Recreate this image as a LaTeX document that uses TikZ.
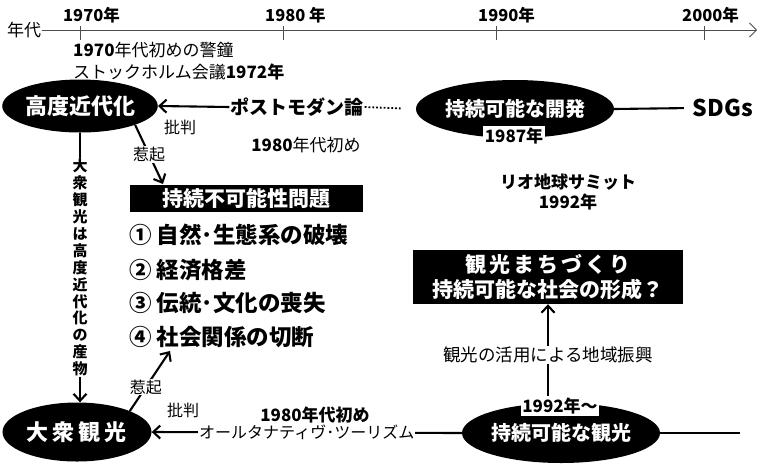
\documentclass[tikz,border=0pt]{standalone}
\usepackage{fontspec}
\setmainfont{Noto Sans CJK JP}
\usetikzlibrary{shapes.geometric,arrows.meta}
\newcommand\myfs[1]{\fontsize{#1}{#1}\selectfont}
\begin{document}
\begin{tikzpicture}[x=1pt,y=-1pt,
  axisline/.style={line width=0.8pt, draw=black!70},
  ell/.style={ellipse, fill=black, text=white, inner sep=0pt},
  blackbox/.style={fill=black, text=white, inner sep=0pt},
  whitebox/.style={fill=white, text=black, inner sep=1.5pt},
  lab/.style={inner sep=1pt},
  item/.style={anchor=west, inner sep=1pt, font=\myfs{22.5}\bfseries},
  conn/.style={line width=2.1pt},
  arr/.style={conn, -{Straight Barb[length=7pt,width=13pt]}},
  yr/.style={anchor=west, font=\myfs{16.5}\bfseries, inner sep=0pt},
]
\useasboundingbox (0,0) rectangle (768,467);

% time axis
\node[lab, font=\myfs{17}] (nendai) at (24,30) {年代};
\coordinate (axend) at (757,30);
\draw[axisline, -{Straight Barb[length=7pt,width=14pt]}] (nendai.east) -- (axend);
\foreach \x in {80,283,496,704} \draw[axisline] (\x,26) -- (\x,40);
\node[yr] (y70) at (63,15) {1970年};
\node[yr] (y80) at (265,15) {1980 年};
\node[yr] (y90) at (478,15) {1990年};
\node[yr] (y00) at (682,15) {2000年};

\node[anchor=west, lab, font=\myfs{17}] (keisho) at (72,50) {\textbf{1970}年代初めの警鐘};
\node[anchor=west, lab, font=\myfs{17}] (stock) at (72,72) {ストックホルム会議\textbf{1972年}};

% top row
\node[ell, minimum width=144, minimum height=53, font=\myfs{22}\bfseries] (kodo) at (80,106) {高度近代化};
\node[lab, font=\myfs{19}\bfseries] (post) at (297,107) {ポストモダン論};
\draw[arr] (post.west) -- (kodo.east);
\node[lab, font=\myfs{16}] (hihan1) at (180,127) {批判};
\node[lab, font=\myfs{17}] (e80a) at (306,145) {\textbf{1980}年代初め};

\node[ell, minimum width=176, minimum height=58, font=\myfs{20}\bfseries] (kaihatsu) at (515,109) {持続可能な開発};
\draw[line width=1.8pt, dotted, shorten >=14pt] (post.east) -- (kaihatsu.west);
\node[whitebox, font=\myfs{17}\bfseries] (y87) at (514,136) {1987年};
\node[lab, font=\myfs{23}\bfseries] (sdgs) at (723,108) {SDGs};
\draw[conn, shorten >=8pt] (kaihatsu.east) -- (sdgs.west);

\node[lab, align=center, font=\fontsize{17}{20}\selectfont\bfseries] (rio) at (568,192) {リオ地球サミット\\1992年};

% problems
\node[blackbox, minimum width=233, minimum height=27, font=\myfs{21}\bfseries] (mondai) at (246.5,198.5) {持続不可能性問題};
\coordinate (mtop) at (163,184);
\draw[arr] (kodo.south east) -- node[lab, fill=white, font=\myfs{16}] (jakki1) {惹起} (mtop);

\node[item] (it1) at (128,235) {① 自然･生態系の破壊};
\node[item] (it2) at (128,270) {② 経済格差};
\node[item] (it3) at (128,303) {③ 伝統･文化の喪失};
\node[item] (it4) at (128,337) {④ 社会関係の切断};

% bottom row
\node[ell, minimum width=149, minimum height=59, font=\myfs{22}\bfseries] (taishu) at (77,432) {大\kern4pt 衆\kern4pt 観\kern4pt 光};
\draw[arr] (kodo.south) -- node[fill=white, inner sep=1pt, align=center, font=\fontsize{15}{16.9}\selectfont\bfseries] (vt) {大\\衆\\観\\光\\は\\高\\度\\近\\代\\化\\の\\産\\物} (kodo.south |- taishu.north);

\coordinate (it4b) at (170,351);
\draw[arr] (taishu.north east) -- node[pos=0.4, lab, fill=white, font=\myfs{16}] (jakki2) {惹起} (it4b);

\node[lab, font=\myfs{16}] (hihan2) at (183,410) {批判};
\node[lab, font=\myfs{17}\bfseries] (e80b) at (315,415) {1980年代初め};

\node[ell, minimum width=188, minimum height=60, font=\myfs{20}\bfseries] (kanko) at (561,433) {持続可能な観光};
\draw[arr] (kanko.west) -- node[lab, fill=white, font=\myfs{16}] (alt) {オールタナティヴ･ツーリズム} (taishu.east);
\coordinate (bend) at (740,433);
\draw[conn] (kanko.east) -- (bend);
\node[whitebox, font=\myfs{17}\bfseries] (y92) at (560,406) {1992年〜};

\node[blackbox, minimum width=270, minimum height=54, align=center, font=\fontsize{21}{25}\selectfont\bfseries] (machi) at (548,277) {観\kern3pt 光\kern3pt ま\kern3pt ち\kern3pt づ\kern3pt く\kern3pt り\\持続可能な社会の形成？};
\draw[arr] (machi.south |- y92.north) -- node[pos=0.45, lab, fill=white, font=\myfs{17.5}] (shinko) {観光の活用による地域振興} (machi.south);
\end{tikzpicture}
\end{document}
